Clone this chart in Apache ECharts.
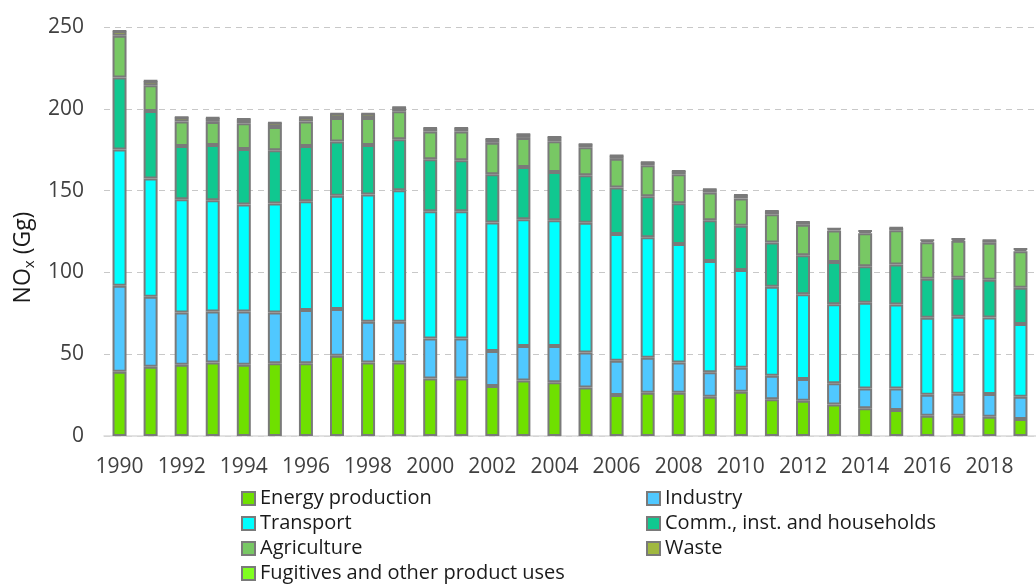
<!DOCTYPE html>
<html>
<head>
<meta charset="utf-8">
<script src="https://cdn.jsdelivr.net/npm/echarts@6/dist/echarts.min.js"></script>
<style>
  html, body { margin: 0; padding: 0; background: #fff; }
  #main { width: 1036px; height: 586px; }
</style>
</head>
<body>
<div id="main"></div>
<script>
// NOx emissions by sector (Gg), 1990-2019
const years = ['1990','1991','1992','1993','1994','1995','1996','1997','1998','1999',
  '2000','2001','2002','2003','2004','2005','2006','2007','2008','2009',
  '2010','2011','2012','2013','2014','2015','2016','2017','2018','2019'];

const energy = [39.3, 42.3, 43.6, 45.0, 43.6, 44.4, 44.4, 49.1, 45.0, 45.0,
  35.2, 35.2, 30.5, 34.0, 32.8, 29.7, 25.0, 26.5, 26.5, 24.0,
  27.1, 22.4, 21.6, 19.3, 16.9, 15.9, 12.4, 12.4, 11.8, 10.4];
const industry = [52.5, 42.8, 31.9, 31.1, 32.5, 31.1, 32.6, 28.5, 24.8, 24.8,
  24.4, 24.4, 21.4, 21.0, 22.2, 21.4, 21.0, 21.3, 18.5, 14.9,
  14.6, 14.4, 13.2, 12.9, 12.2, 13.2, 12.8, 13.5, 13.9, 13.6];
const transport = [83.3, 72.3, 69.2, 68.0, 65.4, 66.6, 66.5, 69.2, 77.8, 80.4,
  77.8, 77.8, 78.6, 77.5, 76.9, 79.2, 77.4, 73.7, 72.3, 68.0,
  59.7, 54.4, 51.9, 48.4, 52.3, 51.3, 47.1, 47.0, 46.8, 44.4];
const commercial = [44.0, 41.3, 32.6, 33.8, 34.0, 32.6, 33.8, 33.2, 30.3, 31.2,
  31.8, 31.2, 29.5, 32.0, 29.5, 29.1, 28.5, 25.1, 25.0, 25.0,
  27.1, 27.1, 23.8, 25.7, 22.4, 24.4, 23.8, 23.8, 23.0, 22.2];
const agriculture = [25.6, 15.7, 14.9, 14.1, 15.7, 14.2, 14.9, 14.4, 16.5, 17.1,
  16.9, 17.5, 19.2, 17.7, 18.8, 17.1, 17.5, 18.9, 17.7, 16.9,
  16.7, 17.3, 18.6, 19.3, 20.2, 21.0, 22.4, 22.6, 22.6, 22.4];
const waste = [2.7, 2.6, 2.6, 2.4, 2.4, 2.5, 2.6, 2.5, 2.5, 2.4,
  2.0, 2.0, 2.2, 2.2, 2.4, 1.8, 2.0, 1.8, 1.9, 1.9,
  2.0, 1.8, 1.6, 1.1, 1.2, 1.4, 1.1, 1.1, 1.4, 1.2];
const fugitives = [0.2, 0.2, 0.2, 0.2, 0.2, 0.2, 0.2, 0.2, 0.2, 0.2,
  0.2, 0.2, 0.2, 0.2, 0.2, 0.2, 0.2, 0.2, 0.2, 0.2,
  0.2, 0.2, 0.2, 0.1, 0.2, 0.2, 0.1, 0.1, 0.2, 0.2];

const yTicks = [0, 50, 100, 150, 200, 250];

const font = 'Open Sans';
const textColor = '#404040';

function bar(name, data, color) {
  return {
    name: name,
    type: 'bar',
    stack: 'total',
    data: data,
    barWidth: 14,
    itemStyle: { color: color, borderColor: '#7a7a7a', borderWidth: 2 }
  };
}

function legendBlock(left, top, names) {
  return {
    orient: 'vertical',
    left: left,
    top: top,
    itemWidth: 13, itemHeight: 13, itemGap: 0,
    icon: 'rect',
    textStyle: { fontFamily: font, fontSize: 20, lineHeight: 25, color: '#1a1a1a' },
    data: names
  };
}

const myChart = echarts.init(document.getElementById('main'));

const option = {
  animation: false,
  grid: { left: 104, right: -12, top: 27, bottom: 150 },
  legend: [
    legendBlock(236, 481, ['Energy production', 'Transport', 'Agriculture']),
    legendBlock(236, 556, ['Fugitives and other product uses']),
    legendBlock(641, 481, ['Industry', 'Comm., inst. and households', 'Waste'])
  ],
  xAxis: {
    type: 'category',
    data: years,
    axisLine: { lineStyle: { color: '#d9d9d9', width: 1.5 } },
    axisTick: { show: false },
    axisLabel: {
      interval: 1,
      margin: 21,
      fontFamily: font, fontSize: 21, color: textColor
    }
  },
  yAxis: {
    type: 'value',
    min: yTicks[0],
    max: yTicks[yTicks.length - 1],
    interval: 50,
    name: '{a|NO}{b|x}{a| (Gg)}',
    nameLocation: 'middle',
    nameRotate: 90,
    nameGap: 60,
    nameTextStyle: {
      padding: [0, 52, 0, 0],
      rich: {
        a: { fontFamily: font, fontSize: 23, color: '#1a1a1a', lineHeight: 30 },
        b: { fontFamily: font, fontSize: 15, color: '#1a1a1a', lineHeight: 30, padding: [12, 0, 0, 0] }
      }
    },
    axisLine: { show: false },
    axisTick: { show: false },
    axisLabel: { margin: 20, fontFamily: font, fontSize: 21, color: textColor },
    splitLine: { lineStyle: { color: '#c8c8c8', type: [6, 5], width: 1 } }
  },
  series: [
    bar('Energy production', energy, '#6fe000'),
    bar('Industry', industry, '#50c8ff'),
    bar('Transport', transport, '#00ffff'),
    bar('Comm., inst. and households', commercial, '#10c890'),
    bar('Agriculture', agriculture, '#78c864'),
    bar('Waste', waste, '#a0b840'),
    bar('Fugitives and other product uses', fugitives, '#80ff20')
  ]
};

myChart.setOption(option);
</script>
</body>
</html>
